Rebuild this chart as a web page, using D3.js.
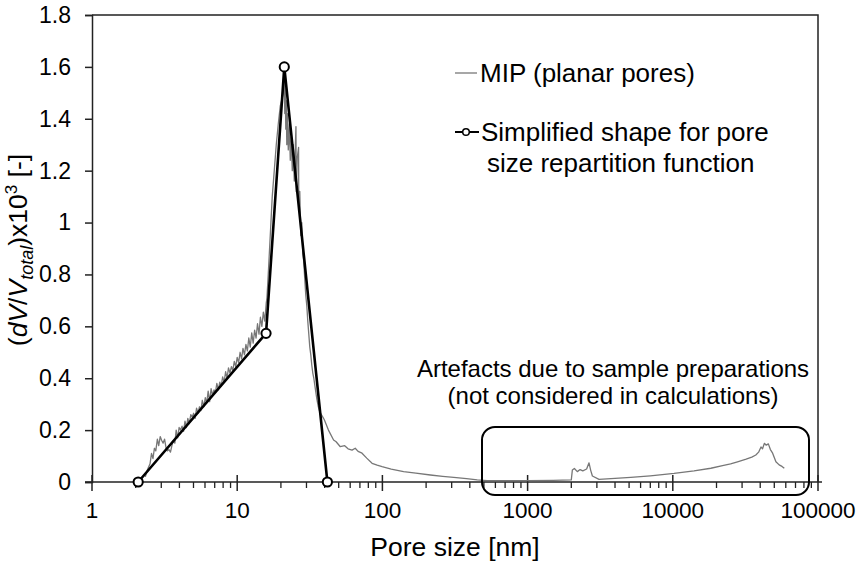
<!DOCTYPE html>
<html><head><meta charset="utf-8">
<script src="https://cdn.jsdelivr.net/npm/d3@7/dist/d3.min.js"></script>
<style>body{margin:0;background:#fff}svg{display:block}text{font-family:"Liberation Sans",Arial,sans-serif;fill:#000}</style>
</head><body><svg id="c" width="862" height="561"></svg>
<script>
// ---- data ----
const xTickValues = [1, 10, 100, 1000, 10000, 100000];
const xTickLabels = ["1", "10", "100", "1000", "10000", "100000"];
const yTickValues = [0, 0.2, 0.4, 0.6, 0.8, 1, 1.2, 1.4, 1.6, 1.8];
const yTickLabels = ["0", "0.2", "0.4", "0.6", "0.8", "1", "1.2", "1.4", "1.6", "1.8"];

// MIP measured curve (pore size nm, dV/Vtotal x1e3)
const mipX = [2.33,2.40,2.51,2.57,2.63,2.69,2.75,2.82,2.88,2.95,3.02,3.09,3.16,3.24,3.31,3.39,3.47,3.55,3.63,3.72,3.80,3.89,3.98,4.07,4.17,4.27,4.37,4.47,4.57,4.68,4.79,4.90,5.01,5.13,5.25,5.37,5.50,5.62,5.75,5.89,6.03,6.17,6.31,6.46,6.61,6.76,6.92,7.08,7.24,7.41,7.59,7.76,7.94,8.13,8.32,8.51,8.71,8.91,9.12,9.33,9.55,9.77,10.0,10.23,10.47,10.72,10.96,11.22,11.48,11.75,12.02,12.30,12.59,12.88,13.18,13.49,13.80,14.13,14.45,14.79,15.14,15.49,15.85,16.03,16.36,16.89,17.43,18.00,18.58,19.18,19.80,20.43,20.76,21.10,21.27,21.43,21.61,21.78,21.95,22.13,22.48,22.84,23.20,23.57,23.95,24.33,24.72,25.39,25.51,25.93,26.47,26.55,26.98,27.41,27.85,28.29,28.74,29.21,29.67,30.15,30.63,31.12,31.62,32.13,32.64,33.16,33.70,34.51,35.35,36.20,37.07,37.96,38.88,39.81,42.5,46.1,48.0,51.3,55.0,58.0,61.8,65.0,68.0,72.4,78.0,84.9,92.0,99.5,115,140,170,214,260,310,380,450,527,700,1000,1500,2000,2033,2100,2200,2300,2400,2550,2648,2720,2794,3104,4000,5130,7000,10210,14000,18280,22000,25000,27900,32000,35000,37300,39000,40500,41500,42700,44000,45500,47000,48700,51300,54000,56500,58600];
const mipY = [0.02,0.045,0.07,0.11,0.09,0.13,0.12,0.165,0.14,0.175,0.16,0.15,0.165,0.13,0.12,0.125,0.115,0.14,0.16,0.15,0.20,0.17,0.21,0.20,0.215,0.195,0.235,0.21,0.245,0.225,0.26,0.25,0.265,0.245,0.285,0.265,0.29,0.275,0.315,0.29,0.325,0.305,0.35,0.31,0.36,0.335,0.355,0.345,0.38,0.355,0.385,0.37,0.405,0.385,0.425,0.40,0.44,0.42,0.445,0.43,0.465,0.445,0.48,0.46,0.50,0.475,0.515,0.49,0.53,0.505,0.555,0.52,0.575,0.535,0.585,0.555,0.61,0.57,0.635,0.60,0.655,0.62,0.69,0.71,0.80,0.95,1.10,1.20,1.30,1.38,1.45,1.48,1.50,1.55,1.42,1.52,1.36,1.47,1.30,1.42,1.28,1.38,1.24,1.33,1.20,1.30,1.16,1.37,1.12,1.25,1.29,1.05,1.12,0.95,1.00,0.88,0.85,0.78,0.72,0.68,0.62,0.57,0.52,0.49,0.45,0.42,0.40,0.36,0.32,0.29,0.27,0.26,0.25,0.24,0.20,0.162,0.155,0.136,0.140,0.128,0.123,0.130,0.118,0.111,0.092,0.072,0.065,0.059,0.050,0.040,0.034,0.027,0.022,0.018,0.013,0.008,0.005,0.005,0.005,0.006,0.008,0.046,0.052,0.040,0.048,0.043,0.050,0.074,0.045,0.023,0.010,0.014,0.018,0.024,0.033,0.043,0.053,0.063,0.070,0.078,0.088,0.096,0.104,0.115,0.135,0.128,0.149,0.142,0.147,0.125,0.111,0.078,0.066,0.060,0.053];

// Simplified shape
const simpX = [2.08, 15.8, 21.1, 41.8];
const simpY = [0, 0.573, 1.6, 0];

const legendLabels = ["MIP (planar pores)", "Simplified shape for pore", "size repartition function"];
const noteLines = ["Artefacts due to sample preparations", "(not considered in calculations)"];

// ---- drawing ----
const svg = d3.select("#c");
const L = 92, R = 818, T = 15, B = 482;
const x = d3.scaleLog().domain([1, 100000]).range([L, R]);
const y = d3.scaleLinear().domain([0, 1.8]).range([B, T]);
const axisCol = "#222";

// plot border (top & right)
svg.append("path").attr("d", `M${L},${T}H${R}V${B}`).attr("fill", "none").attr("stroke", axisCol).attr("stroke-width", 1.5);

// y axis
const yAxis = d3.axisLeft(y).tickValues(yTickValues).tickSize(7).tickPadding(14)
  .tickFormat((d, i) => yTickLabels[i]);
const gy = svg.append("g").attr("transform", `translate(${L},0)`).call(yAxis);
gy.select(".domain").attr("stroke", axisCol).attr("stroke-width", 1.5);
gy.selectAll(".tick line").attr("stroke", axisCol).attr("stroke-width", 1.5);
gy.selectAll(".tick text").attr("font-size", 23).attr("font-family", "Liberation Sans, Arial, sans-serif").attr("fill", "#000");

// x axis
svg.append("line").attr("x1", L - 7).attr("x2", R + 4).attr("y1", B).attr("y2", B).attr("stroke", axisCol).attr("stroke-width", 1.5);
const minor = [];
for (let e = 0; e < 5; e++) for (let m = 2; m <= 9; m++) minor.push(m * Math.pow(10, e));
svg.append("g").selectAll("line").data(minor).join("line")
  .attr("x1", d => x(d)).attr("x2", d => x(d)).attr("y1", B).attr("y2", B + 6)
  .attr("stroke", axisCol).attr("stroke-width", 1.3);
svg.append("g").selectAll("line").data(xTickValues).join("line")
  .attr("x1", d => x(d)).attr("x2", d => x(d)).attr("y1", B - 7).attr("y2", B + 9)
  .attr("stroke", axisCol).attr("stroke-width", 1.5);
svg.append("g").selectAll("text").data(xTickValues).join("text")
  .attr("x", d => x(d)).attr("y", 518).attr("text-anchor", "middle").attr("font-size", 22.5)
  .text((d, i) => xTickLabels[i]);

// axis titles
svg.append("text").attr("x", 455).attr("y", 556).attr("text-anchor", "middle").attr("font-size", 26.5).text("Pore size [nm]");
const yt = svg.append("text").attr("transform", "translate(27,250) rotate(-90)").attr("text-anchor", "middle").attr("font-size", 26.5);
yt.append("tspan").text("(");
yt.append("tspan").attr("font-style", "italic").text("dV");
yt.append("tspan").text("/");
yt.append("tspan").attr("font-style", "italic").text("V");
yt.append("tspan").attr("font-style", "italic").attr("font-size", 18).attr("dy", 6).text("total");
yt.append("tspan").attr("dy", -6).text(")x10");
yt.append("tspan").attr("font-size", 17).attr("dy", -10).text("3");
yt.append("tspan").attr("dy", 10).text(" [-]");

// MIP curve
const mip = mipX.map((d, i) => [d, mipY[i]]);
svg.append("path").datum(mip).attr("fill", "none").attr("stroke", "#777").attr("stroke-width", 1.3)
  .attr("stroke-linejoin", "round")
  .attr("d", d3.line().x(d => x(d[0])).y(d => y(d[1])));

// simplified shape
const simp = simpX.map((d, i) => [d, simpY[i]]);
svg.append("path").datum(simp).attr("fill", "none").attr("stroke", "#000").attr("stroke-width", 2.6)
  .attr("stroke-linejoin", "round")
  .attr("d", d3.line().x(d => x(d[0])).y(d => y(d[1])));
svg.append("g").selectAll("circle").data(simp).join("circle")
  .attr("cx", d => x(d[0])).attr("cy", d => y(d[1])).attr("r", 4.6)
  .attr("fill", "#fff").attr("stroke", "#000").attr("stroke-width", 2);

// artefact box + note
svg.append("rect").attr("x", 482).attr("y", 427).attr("width", 327).attr("height", 68).attr("rx", 13)
  .attr("fill", "none").attr("stroke", "#000").attr("stroke-width", 2);
svg.append("text").attr("x", 613).attr("y", 377).attr("text-anchor", "middle").attr("font-size", 24).text(noteLines[0]);
svg.append("text").attr("x", 613).attr("y", 404).attr("text-anchor", "middle").attr("font-size", 24).text(noteLines[1]);

// legend
svg.append("line").attr("x1", 455).attr("x2", 477).attr("y1", 73).attr("y2", 73).attr("stroke", "#777").attr("stroke-width", 1.3);
svg.append("text").attr("x", 480).attr("y", 82).attr("font-size", 26).text(legendLabels[0]);
svg.append("line").attr("x1", 455).attr("x2", 479).attr("y1", 132).attr("y2", 132).attr("stroke", "#000").attr("stroke-width", 2);
svg.append("circle").attr("cx", 466).attr("cy", 132).attr("r", 3.3).attr("fill", "#fff").attr("stroke", "#000").attr("stroke-width", 1.5);
svg.append("text").attr("x", 481).attr("y", 141).attr("font-size", 26).text(legendLabels[1]);
svg.append("text").attr("x", 487).attr("y", 172).attr("font-size", 26).text(legendLabels[2]);
</script></body></html>
